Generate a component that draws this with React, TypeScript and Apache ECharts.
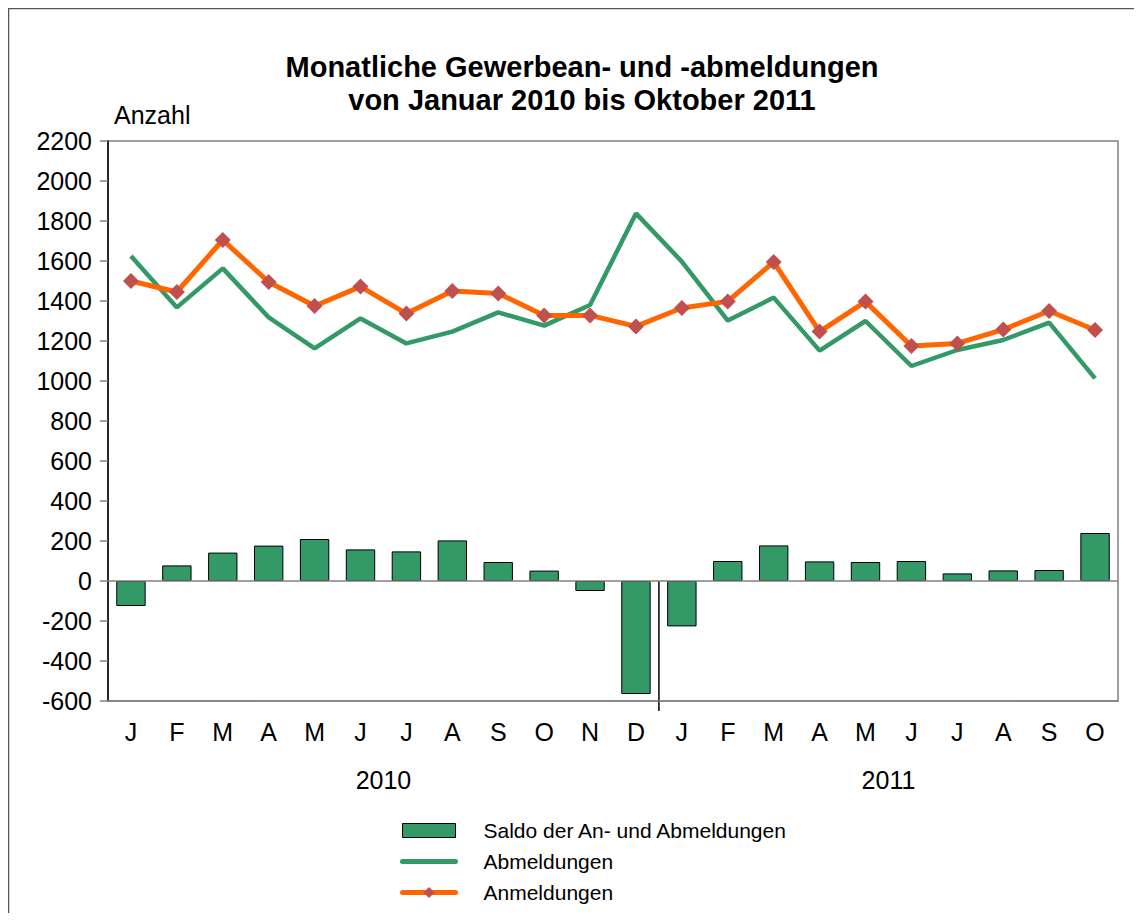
import React, { useEffect, useRef } from "react";
import * as echarts from "echarts";

const months = ["J", "F", "M", "A", "M", "J", "J", "A", "S", "O", "N", "D", "J", "F", "M", "A", "M", "J", "J", "A", "S", "O"];
const years = ["2010", "2011"];
const saldo = [-125, 78, 142, 177, 210, 158, 148, 203, 95, 52, -50, -565, -227, 100, 178, 98, 95, 100, 38, 53, 55, 240];
const abmeldungen = [1625, 1368, 1563, 1318, 1163, 1313, 1188, 1247, 1343, 1277, 1380, 1838, 1597, 1302, 1417, 1152, 1300, 1075, 1155, 1205, 1292, 1013];
const anmeldungen = [1500, 1445, 1705, 1495, 1375, 1472, 1337, 1450, 1438, 1328, 1328, 1273, 1365, 1398, 1595, 1247, 1397, 1175, 1188, 1257, 1350, 1255];

const FONT = "Liberation Sans, Arial, sans-serif";

export default function App() {
  const ref = useRef<HTMLDivElement>(null);
  useEffect(() => {
    document.body.style.overflow = "hidden";
    const chart = echarts.init(ref.current!, null, { renderer: "svg" });
    const option: any = {
      animation: false,
      textStyle: { fontFamily: FONT },
      title: {
        text: "Monatliche Gewerbean- und -abmeldungen\nvon Januar 2010 bis Oktober 2011",
        left: 569,
        textAlign: "center",
        top: 37,
        textStyle: { fontSize: 29, fontWeight: "bold", color: "#000", lineHeight: 33, fontFamily: FONT },
      },
      grid: {
        left: 100,
        right: 16,
        top: 133,
        bottom: 212,
        show: true,
        borderColor: "#808080",
        borderWidth: 1.5,
      },
      legend: {
        orient: "vertical",
        left: 387,
        top: 807,
        itemWidth: 53,
        itemHeight: 14,
        itemGap: 10,
        textStyle: { fontSize: 21, color: "#000", lineHeight: 20, padding: [0, 0, 0, 23], fontFamily: FONT },
        data: [
          { name: "Saldo der An- und Abmeldungen", icon: "rect", itemStyle: { borderWidth: 1, borderColor: "#000" } },
          { name: "Abmeldungen", itemStyle: { opacity: 0, color: "rgba(0,0,0,0)", borderWidth: 0 }, lineStyle: { width: 5, cap: "round" } },
          { name: "Anmeldungen", lineStyle: { width: 5, cap: "round" } },
        ],
      },
      xAxis: {
        type: "category",
        data: months,
        boundaryGap: true,
        axisLine: { show: true, onZero: false, lineStyle: { color: "#808080", width: 1.5 } },
        axisTick: { show: false },
        axisLabel: { fontSize: 25, color: "#000", margin: 18, interval: 0, fontFamily: FONT },
      },
      yAxis: {
        type: "value",
        min: -600,
        max: 2200,
        interval: 200,
        splitLine: { show: false },
        axisLine: { show: true, lineStyle: { color: "#000", width: 1.5 } },
        axisTick: { show: true, inside: false, length: 8, lineStyle: { color: "#808080", width: 1.5 } },
        axisLabel: { fontSize: 25, color: "#000", margin: 16, fontFamily: FONT, formatter: (v: number) => String(v) },
      },
      series: [
        {
          name: "Saldo der An- und Abmeldungen",
          type: "bar",
          data: saldo,
          barWidth: "64%",
          itemStyle: { color: "#339966", borderColor: "#000", borderWidth: 1 },
          markLine: {
            silent: true,
            symbol: "none",
            label: { show: false },
            lineStyle: { color: "#808080", width: 1.5, type: "solid" },
            data: [{ yAxis: 0 }],
          },
        },
        {
          name: "Abmeldungen",
          type: "line",
          data: abmeldungen,
          showSymbol: false,
          symbol: "none",
          lineStyle: { color: "#339966", width: 4.5 },
          itemStyle: { color: "#339966" },
        },
        {
          name: "Anmeldungen",
          type: "line",
          data: anmeldungen,
          symbol: "diamond",
          symbolSize: 16,
          lineStyle: { color: "#FF6600", width: 5 },
          itemStyle: { color: "#C0504D" },
        },
      ],
    };
    chart.setOption(option);

    const xD = chart.convertToPixel({ xAxisIndex: 0 }, 11) as number;
    const xJ = chart.convertToPixel({ xAxisIndex: 0 }, 12) as number;
    const x0 = chart.convertToPixel({ xAxisIndex: 0 }, 0) as number;
    const xLast = chart.convertToPixel({ xAxisIndex: 0 }, months.length - 1) as number;
    const yZero = chart.convertToPixel({ yAxisIndex: 0 }, 0) as number;
    const yMin = chart.convertToPixel({ yAxisIndex: 0 }, -600) as number;
    const yTop = chart.convertToPixel({ yAxisIndex: 0 }, 2200) as number;
    const sepX = (xD + xJ) / 2;

    chart.setOption({
      graphic: [
        {
          type: "rect",
          shape: { x: 0.5, y: 0.5, width: 3000, height: 3000 },
          style: { fill: "none", stroke: "#555", lineWidth: 1.5 },
          silent: true,
        },
        {
          type: "line",
          shape: { x1: sepX, y1: yZero, x2: sepX, y2: yMin + 10 },
          style: { stroke: "#000", lineWidth: 1.5 },
          silent: true,
        },
        {
          type: "text",
          x: 106,
          y: yTop - 26,
          style: { text: "Anzahl", fontSize: 25, fill: "#000", fontFamily: FONT, verticalAlign: "middle" },
        },
        {
          type: "text",
          x: (x0 + xD) / 2,
          y: yMin + 79,
          style: { text: years[0], fontSize: 25, fill: "#000", fontFamily: FONT, align: "center", verticalAlign: "middle" },
        },
        {
          type: "text",
          x: (xJ + xLast) / 2,
          y: yMin + 79,
          style: { text: years[1], fontSize: 25, fill: "#000", fontFamily: FONT, align: "center", verticalAlign: "middle" },
        },
      ],
    });

    return () => chart.dispose();
  }, []);
  return <div ref={ref} style={{ width: 1126, height: 905 }} />;
}
